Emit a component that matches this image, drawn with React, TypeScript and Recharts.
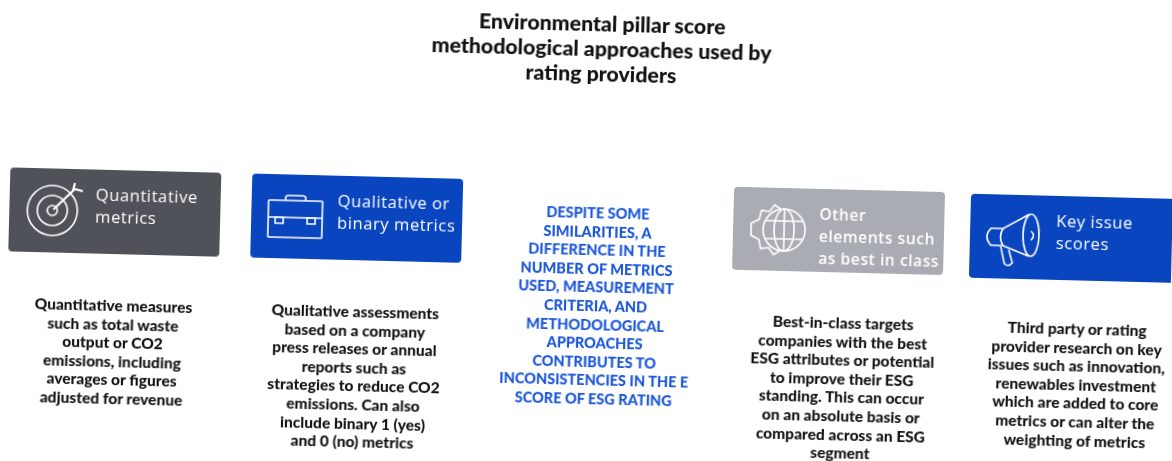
import { Bar, ComposedChart, Line, XAxis, YAxis } from "recharts";

const categories = ["Quantitative", "Qualitative", "Summary", "Other", "Key issue"];
const icons = ["target", "briefcase", "", "globe", "megaphone"];

const titleLines = [
  "Environmental pillar score",
  "methodological approaches used by",
  "rating providers",
];

const headerTops = [182, 182, null, 183, 184];
const headerBottoms = [266, 266, null, 266, 268];
const bodyTops = [318, 318, 213, 317, 317];

const headerLabels = [
  ["Quantitative", "metrics"],
  ["Qualitative or", "binary metrics"],
  [],
  ["Other", "elements such", "as best in class"],
  ["Key issue", "scores"],
];

const bodyLines = [
  [
    "Quantitative measures",
    "such as total waste",
    "output or CO2",
    "emissions, including",
    "averages or figures",
    "adjusted for revenue",
  ],
  [
    "Qualitative assessments",
    "based on a company",
    "press releases or annual",
    "reports such as",
    "strategies to reduce CO2",
    "emissions. Can also",
    "include binary 1 (yes)",
    "and 0 (no) metrics",
  ],
  [
    "DESPITE SOME",
    "SIMILARITIES, A",
    "DIFFERENCE IN THE",
    "NUMBER OF METRICS",
    "USED, MEASUREMENT",
    "CRITERIA, AND",
    "METHODOLOGICAL",
    "APPROACHES",
    "CONTRIBUTES TO",
    "INCONSISTENCIES IN THE E",
    "SCORE OF ESG RATING",
  ],
  [
    "Best-in-class targets",
    "companies with the best",
    "ESG attributes or potential",
    "to improve their ESG",
    "standing. This can occur",
    "on an absolute basis or",
    "compared across an ESG",
    "segment",
  ],
  [
    "Third party or rating",
    "provider research on key",
    "issues such as innovation,",
    "renewables investment",
    "which are added to core",
    "metrics or can alter the",
    "weighting of metrics",
  ],
];

const boxColors = ["#4f5359", "#0a45c0", "", "#a9adb3", "#0a45c0"];

const data = categories.map((name, i) => ({
  name,
  icon: icons[i],
  color: boxColors[i],
  labels: headerLabels[i],
  lines: bodyLines[i],
  band: headerTops[i] === null ? null : [headerTops[i], headerBottoms[i]],
  bodyTop: bodyTops[i],
}));

// the scanned columns are not evenly spaced
const boxNudge: Record<string, number> = { Quantitative: -1, "Key issue": -4 };
const bodyNudge: Record<string, number> = {
  Quantitative: 0,
  Qualitative: 1,
  Other: 7,
  "Key issue": 0,
};

function Icon({ type }: { type: string }) {
  const common = { fill: "none", stroke: "#fff", strokeWidth: 1.6 };
  if (type === "target") {
    return (
      <g {...common}>
        <circle r="25" />
        <circle r="15" />
        <circle r="5" />
        <path d="M1 -1 L22 -22 M20 -20 L22 -28 M22 -22 L30 -20" strokeWidth="2.2" />
      </g>
    );
  }
  if (type === "briefcase") {
    return (
      <g {...common}>
        <rect x="-26" y="-16" width="54" height="37" rx="1" />
        <path d="M-26 1 H28 M-9 -16 V-19 Q-9 -21 -6 -21 H8 Q11 -21 11 -19 V-16" />
        <rect x="-19" y="1" width="8" height="6" />
        <rect x="13" y="1" width="8" height="6" />
      </g>
    );
  }
  if (type === "globe") {
    return (
      <g {...common}>
        <circle cx="8" r="21" />
        <ellipse cx="8" rx="10" ry="21" />
        <path d="M8 -21 V21 M-11 -9 H27 M-11 9 H27" />
        <path d="M4 -21 L-2 -25 L-7 -18 L-15 -19 L-17 -10 L-25 -6 L-25 6 L-17 10 L-15 19 L-7 18 L-2 25 L4 21" />
      </g>
    );
  }
  return (
    <g {...common}>
      <ellipse cx="18" cy="-2" rx="8" ry="21" />
      <path d="M16 -23 L-10 -8 H-22 Q-30 0 -22 9 H-10 L16 19" />
      <path d="M-10 -8 Q-15 0 -10 9 M-12 10 L-8 27 Q-4 31 0 26 L-4 13" />
      <path d="M18 -6 Q23 -2 18 3" />
    </g>
  );
}

function HeaderBox(props: any) {
  const { y, width, height, payload } = props;
  if (!payload.band) return null;
  const x = props.x + (boxNudge[payload.name] ?? 0);
  // reversed axis gives a negative height here
  const top = Math.min(y, y + height);
  return (
    <g>
      <rect x={x} y={top} width={width} height={Math.abs(height)} rx={4} fill={payload.color} />
      <g transform={`translate(${x + 43},${top + 42})`}>
        <Icon type={payload.icon} />
      </g>
      {payload.labels.map((label: string, i: number) => (
        <text
          key={label}
          x={x + 86}
          y={top + 31 + i * 22}
          fill="#fff"
          fontFamily="Open Sans"
          fontWeight={payload.name === "Other" ? 600 : 400}
          fontSize={payload.name === "Other" ? 15.5 : 16.5}
          letterSpacing={0.6}
        >
          {label}
        </text>
      ))}
    </g>
  );
}

function BodyBlock(props: any) {
  const { cx, cy, payload } = props;
  const isSummary = payload.icon === "";
  return (
    <g key={payload.name}>
      {payload.lines.map((line: string, i: number) => (
        <text
          key={line}
          x={cx + (bodyNudge[payload.name] ?? 0)}
          y={cy + 5 + i * 18.6}
          textAnchor="middle"
          fill={isSummary ? "#1a56d8" : "#141414"}
          fontFamily="Lato"
          fontWeight={900}
          fontSize={isSummary ? 14.5 : 15.5}
        >
          {line}
        </text>
      ))}
    </g>
  );
}

export default function App() {
  return (
    <div
      style={{
        position: "absolute",
        left: 0,
        top: 0,
        width: 1172,
        height: 461,
        overflow: "hidden",
        background: "#fff",
      }}
    >
      <div
        style={{
          position: "relative",
          width: 1172,
          height: 461,
          transform: "rotate(1.45deg)",
          transformOrigin: "586px 230px",
          filter: "blur(0.4px)",
        }}
      >
        <div
          style={{
            position: "absolute",
            left: 297,
            width: 600,
            top: 11,
            textAlign: "center",
            fontFamily: "Lato",
            fontWeight: 900,
            fontSize: 21.3,
            lineHeight: "25px",
            color: "#111",
          }}
        >
          {titleLines.map((line) => (
            <div key={line}>{line}</div>
          ))}
        </div>
        <ComposedChart
          width={1172}
          height={461}
          data={data}
          barSize={211}
          margin={{ top: 0, right: -28, bottom: 0, left: -5 }}
        >
          <XAxis dataKey="name" hide />
          <YAxis hide reversed domain={[0, 461]} />
          <Bar dataKey="band" shape={HeaderBox} isAnimationActive={false} />
          <Line
            dataKey="bodyTop"
            stroke="none"
            dot={BodyBlock}
            isAnimationActive={false}
          />
        </ComposedChart>
      </div>
    </div>
  );
}
